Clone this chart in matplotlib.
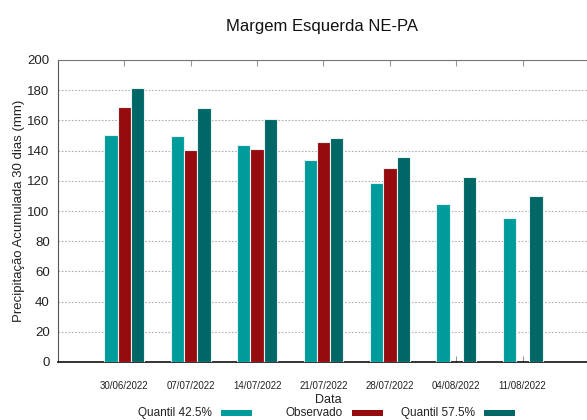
import matplotlib
matplotlib.use("Agg")
import matplotlib.pyplot as plt
import matplotlib.transforms as mtransforms
from matplotlib.patches import Rectangle
import numpy as np

dates = ["30/06/2022", "07/07/2022", "14/07/2022", "21/07/2022", "28/07/2022", "04/08/2022", "11/08/2022"]
q425 = [150.3, 149.9, 143.7, 133.8, 118.8, 104.8, 95.1]
observado = [168.9, 140.4, 141.0, 145.7, 128.7, np.nan, np.nan]
q575 = [181.5, 168.2, 160.7, 148.3, 136.0, 122.5, 109.7]
series_labels = ["Quantil 42.5%", "Observado", "Quantil 57.5%"]
colors = ["#009b9b", "#960c0e", "#006666"]

plt.rcParams['font.family'] = ['Liberation Sans', 'DejaVu Sans']

fig = plt.figure(figsize=(5.87, 4.2), dpi=100)
ax = fig.add_axes([58/587, 1-362/420, 1.0-58/587, (362-60)/420])

x = np.arange(1, len(dates) + 1)
w = 0.2
series = [q425, observado, q575]
for i, (vals, c) in enumerate(zip(series, colors)):
    ax.bar(x + (i - 1) * w, vals, width=w, color=c, edgecolor="#e8f0f0", linewidth=0.8, zorder=3)

ax.set_xlim(0, 7.97)
ax.set_ylim(0, 200)
ax.set_yticks(np.arange(0, 201, 20))
ax.set_xticks(x)
ax.set_xticklabels(dates, fontsize=7, color="#222222")
offset = mtransforms.ScaledTranslation(4/100, 0, fig.dpi_scale_trans)
for lab in ax.get_xticklabels():
    lab.set_transform(lab.get_transform() + offset)
ax.tick_params(axis='x', direction='in', length=4, color='#999999', top=True, pad=14)
ax.tick_params(axis='y', length=0, labelsize=9.5, pad=6, labelcolor="#222222")
ax.yaxis.grid(True, linestyle=(0, (1.5, 1.5)), color="#b0b0b0", linewidth=0.8, zorder=0)
ax.spines['right'].set_visible(False)
ax.spines['top'].set_color('#777777')
ax.spines['left'].set_color('#555555')
ax.spines['bottom'].set_color('#111111')
ax.spines['bottom'].set_linewidth(1.2)

ax.set_ylabel("Precipitação Acumulada 30 dias (mm)", fontsize=9.5, color="#222222")
ax.yaxis.set_label_coords(-33/529, 0.5)
fig.text(328/587, 1-400/420, "Data", ha='center', va='center', fontsize=9, color="#222222")
fig.text(322/587, 1-26/420, "Margem Esquerda NE-PA", ha='center', va='center', fontsize=12, color="#111111")

# legend
text_right = [212, 343, 475]
for lbl, c, tr in zip(series_labels, colors, text_right):
    fig.text(tr/587, 1-413/420, lbl, ha='right', va='center', fontsize=8.5, color="#222222")
    fig.add_artist(Rectangle(((tr+9)/587, 1-416/420), 31/587, 6/420, transform=fig.transFigure,
                             facecolor=c, edgecolor='none'))

fig.savefig("out.png", dpi=100)
